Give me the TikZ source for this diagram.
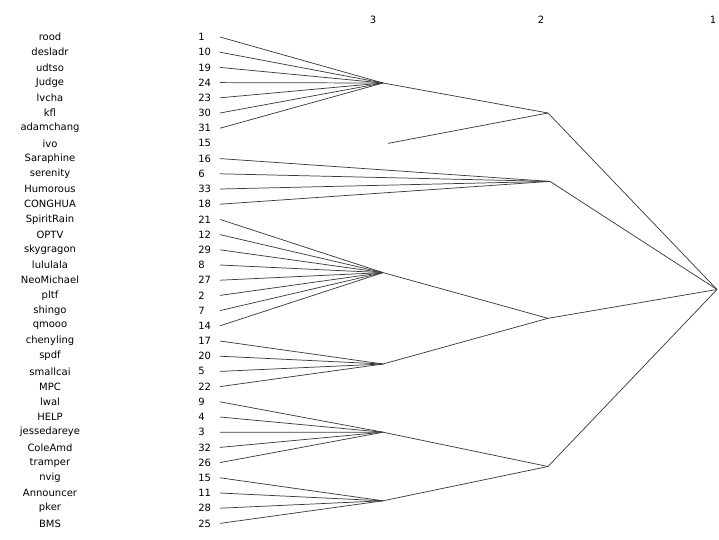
\documentclass[tikz,border=0pt]{standalone}
\usepackage{fontspec}
\setmainfont{DejaVu Sans}
\usetikzlibrary{calc}
\definecolor{treeInk}{RGB}{60,60,60}
\tikzset{
  leafname/.style={font=\fontsize{7.5}{8}\selectfont,anchor=center,inner sep=0pt},
  leafnum/.style={font=\fontsize{7.5}{8}\selectfont,anchor=west,inner sep=0pt},
  levelhead/.style={font=\fontsize{7.5}{8}\selectfont,inner sep=0pt},
  link/.style={draw=treeInk,line width=0.55pt}
}

\begin{document}
\begin{tikzpicture}[x=0.75pt,y=-0.75pt]
  \useasboundingbox (0,0) rectangle (719,540);
  \def\ytop{37}\def\dy{15.2}\def\xleaf{220}
  % level heads
  \node[levelhead] (h3) at (373,20) {3};
  \node[levelhead] (h2) at (541,20) {2};
  \node[levelhead] (h1) at (713,20) {1};
  % leaves
  \foreach \i/\nm/\nr in {1/rood/1,2/desladr/10,3/udtso/19,4/Judge/24,5/lvcha/23,6/kfl/30,7/adamchang/31,
      8/ivo/15,9/Saraphine/16,10/serenity/6,11/Humorous/33,12/CONGHUA/18,13/SpiritRain/21,14/OPTV/12,
      15/skygragon/29,16/lululala/8,17/NeoMichael/27,18/pltf/2,19/shingo/7,20/qmooo/14,21/chenyling/17,
      22/spdf/20,23/smallcai/5,24/MPC/22,25/lwal/9,26/HELP/4,27/jessedareye/3,28/ColeAmd/32,
      29/tramper/26,30/nvig/15,31/Announcer/11,32/pker/28,33/BMS/25}{
    \pgfmathsetmacro{\yp}{\ytop+(\i-1)*\dy}
    \node[leafname] (n\i) at (50,\yp) {\nm};
    \node[leafnum] (k\i) at (198,\yp) {\nr};
    \coordinate (l\i) at (\xleaf,\yp);
  }
  % merge points
  \coordinate (a3) at (383,83);
  \coordinate (ivo3) at (388,143.4);
  \coordinate (c3) at (383,272.6);
  \coordinate (d3) at (383,364);
  \coordinate (e3) at (383,432.2);
  \coordinate (f3) at (383,500.8);
  \coordinate (a2) at (548,113);
  \coordinate (b2) at (550,181.4);
  \coordinate (c2) at (548,318.3);
  \coordinate (e2) at (548,466.5);
  \coordinate (root) at (717,289.5);
  \foreach \i in {1,...,7} \draw[link] (l\i) -- (a3);
  \foreach \i in {9,...,12} \draw[link] (l\i) -- (b2);
  \foreach \i in {13,...,20} \draw[link] (l\i) -- (c3);
  \foreach \i in {21,...,24} \draw[link] (l\i) -- (d3);
  \foreach \i in {25,...,29} \draw[link] (l\i) -- (e3);
  \foreach \i in {30,...,33} \draw[link] (l\i) -- (f3);
  \foreach \a/\b in {a3/a2,ivo3/a2,c3/c2,d3/c2,e3/e2,f3/e2,a2/root,b2/root,c2/root,e2/root}
    \draw[link] (\a) -- (\b);
\end{tikzpicture}
\end{document}
